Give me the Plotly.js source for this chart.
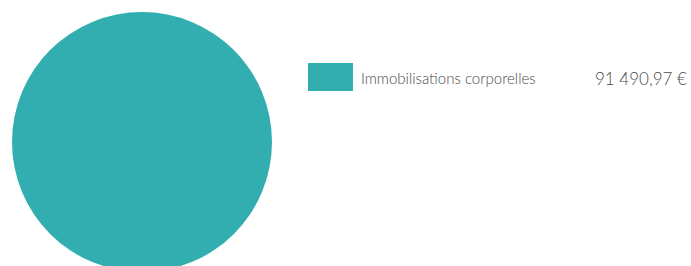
<!DOCTYPE html>
<html><head><meta charset="utf-8">
<script src="https://cdn.plot.ly/plotly-3.0.1.min.js"></script>
<style>html,body{margin:0;padding:0;overflow:hidden;background:#fff}</style>
</head><body><div id="chart"></div>
<script>
const labels = ["Immobilisations corporelles"];
const values = [91490.97];
const valueLabels = ["91 490,97 €"];
const colors = ["#33AEB0"];

const W = 691, H = 284;
const trace = {
  type: "pie", labels: labels, values: values,
  marker: {colors: colors, line: {width: 0}},
  textinfo: "none", hoverinfo: "none", sort: false,
  domain: {x: [12 / W, 272 / W], y: [0, 1]}
};
const shapes = [], annotations = [];
labels.forEach((l, i) => {
  const yc = 77 + i * 36;
  shapes.push({type: "rect", xref: "paper", yref: "paper",
    x0: 308 / W, x1: 353 / W, y0: 1 - (yc - 14) / H, y1: 1 - (yc + 14) / H,
    fillcolor: colors[i], line: {width: 0}});
  annotations.push({xref: "paper", yref: "paper", x: 359 / W, y: 1 - (yc + 1) / H,
    xanchor: "left", yanchor: "middle", showarrow: false, text: l,
    font: {family: "Lato", size: 15, color: "#4a4a4a", weight: 300}});
  annotations.push({xref: "paper", yref: "paper", x: 689 / W, y: 1 - (yc + 1) / H,
    xanchor: "right", yanchor: "middle", showarrow: false, text: valueLabels[i],
    font: {family: "Lato", size: 17, color: "#4a4a4a", weight: 300}});
});
Plotly.newPlot("chart", [trace], {
  width: W, height: H, margin: {l: 0, r: 0, t: 0, b: 0},
  showlegend: false, paper_bgcolor: "#fff",
  shapes: shapes, annotations: annotations
}, {staticPlot: true});
</script></body></html>
